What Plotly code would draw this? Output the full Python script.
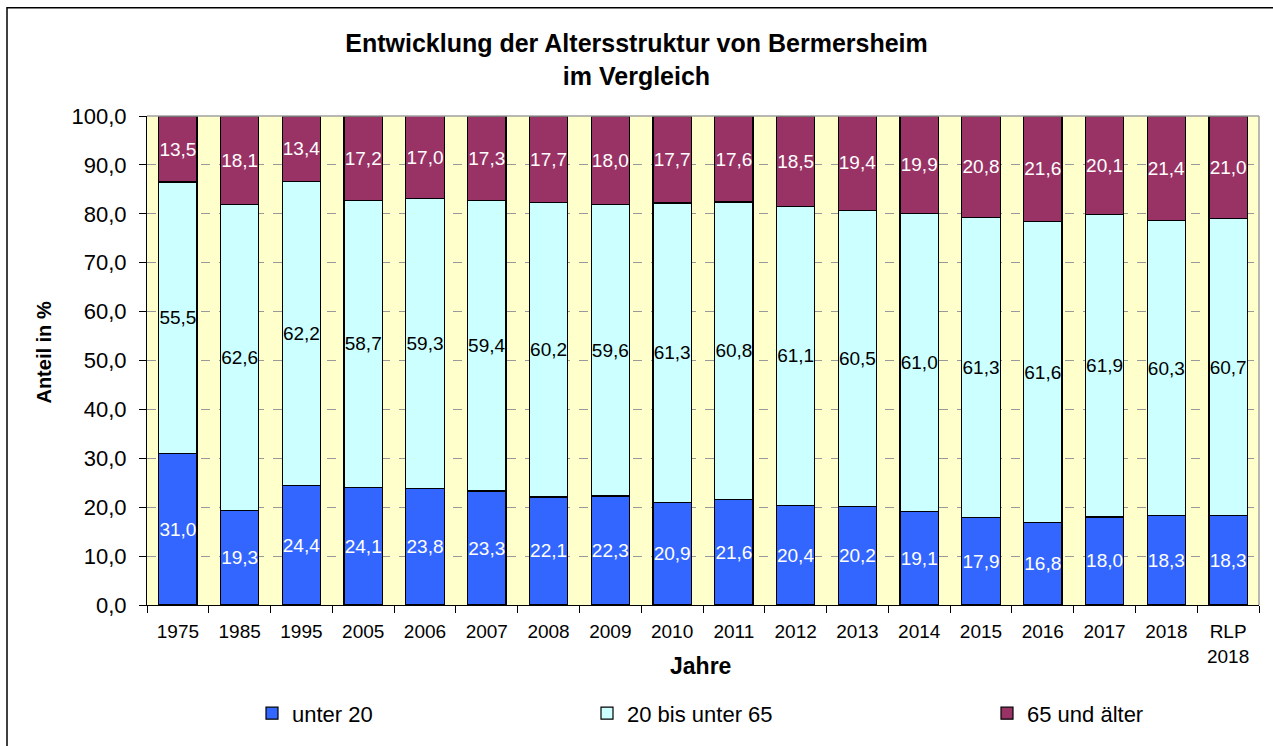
import plotly.graph_objects as go

categories = ["1975", "1985", "1995", "2005", "2006", "2007", "2008", "2009", "2010",
              "2011", "2012", "2013", "2014", "2015", "2016", "2017", "2018", "RLP<br>2018"]
unter_20 = [31.0, 19.3, 24.4, 24.1, 23.8, 23.3, 22.1, 22.3, 20.9, 21.6, 20.4, 20.2, 19.1, 17.9, 16.8, 18.0, 18.3, 18.3]
bis_65 = [55.5, 62.6, 62.2, 58.7, 59.3, 59.4, 60.2, 59.6, 61.3, 60.8, 61.1, 60.5, 61.0, 61.3, 61.6, 61.9, 60.3, 60.7]
ueber_65 = [13.5, 18.1, 13.4, 17.2, 17.0, 17.3, 17.7, 18.0, 17.7, 17.6, 18.5, 19.4, 19.9, 20.8, 21.6, 20.1, 21.4, 21.0]

FONT = "Liberation Sans, Arial, sans-serif"

def fmt(v):
    return f"{v:.1f}".replace(".", ",")

series = [
    ("unter 20", unter_20, "#3366FF", "white", "legend"),
    ("20 bis unter 65", bis_65, "#CCFFFF", "black", "legend2"),
    ("65 und älter", ueber_65, "#993366", "white", "legend3"),
]

fig = go.Figure()
for name, vals, color, tcol, leg in series:
    fig.add_trace(go.Bar(
        x=categories, y=vals, name=name,
        marker=dict(color=color, line=dict(color="black", width=1.2)),
        text=[fmt(v) for v in vals], textposition="inside", insidetextanchor="middle",
        textangle=0, constraintext="none",
        insidetextfont=dict(color=tcol, size=19, family=FONT),
        legend=leg, showlegend=True, hoverinfo="skip",
    ))

W, H = 1273, 746
L, R, T, B = 147, 14, 116, 138
pw, ph = W - L - R, H - T - B

def px_x(p):
    return (p - L) / pw

def px_y(p):
    return (H - B - p) / ph

leg_common = dict(orientation="h", yanchor="middle", xanchor="left", bgcolor="rgba(0,0,0,0)",
                  font=dict(size=22, family=FONT, color="black"), y=px_y(717))

fig.update_layout(
    width=W, height=H,
    margin=dict(l=L, r=R, t=T, b=B),
    barmode="stack", bargap=0.38,
    separators=",.",
    showlegend=True,
    paper_bgcolor="white", plot_bgcolor="#FFFFCC",
    font=dict(family=FONT, color="black"),
    title=dict(text="<b>Entwicklung der Altersstruktur von Bermersheim<br>im Vergleich</b>",
               x=px_x(703), xanchor="center", y=1 - 52 / H, yanchor="middle", yref="container",
               font=dict(size=25, family=FONT, color="black")),
    legend=dict(x=px_x(252), **leg_common),
    legend2=dict(x=px_x(587), **leg_common),
    legend3=dict(x=px_x(987), **leg_common),
    xaxis=dict(type="category", tickson="boundaries", ticks="outside", ticklen=7, tickcolor="black",
               showline=True, linecolor="black", linewidth=1, mirror=False,
               tickfont=dict(size=19, family=FONT), ticklabelstandoff=9),
    yaxis=dict(range=[0, 100], dtick=10, tickformat=".1f", ticks="outside", ticklen=7, tickcolor="black",
               showline=True, linecolor="black", linewidth=1,
               showgrid=True, gridcolor="#999999", griddash="dash", gridwidth=1,
               tickfont=dict(size=22, family=FONT), zeroline=False, ticklabelstandoff=8),
    annotations=[
        dict(text="<b>Jahre</b>", xref="paper", yref="paper", x=px_x(700), y=px_y(669),
             xanchor="center", yanchor="middle", showarrow=False,
             font=dict(size=23, family=FONT, color="black")),
        dict(text="<b>Anteil in %</b>", xref="paper", yref="paper", x=px_x(44), y=px_y(354),
             xanchor="center", yanchor="middle", showarrow=False, textangle=-90,
             font=dict(size=20, family=FONT, color="black")),
    ],
    shapes=[
        dict(type="line", xref="paper", yref="paper", x0=0, x1=1, y0=1, y1=1,
             line=dict(color="#A0A0A0", width=1.5)),
        dict(type="line", xref="paper", yref="paper", x0=1, x1=1, y0=0, y1=1,
             line=dict(color="#A0A0A0", width=1.5)),
        dict(type="rect", xref="paper", yref="paper", x0=px_x(7), x1=px_x(1285), y0=px_y(7), y1=px_y(760),
             line=dict(color="black", width=1.5), fillcolor="rgba(0,0,0,0)", layer="below"),
    ],
)

fig.write_html("out.html", config={"displayModeBar": False},
               post_script="document.body.style.margin='0';")
